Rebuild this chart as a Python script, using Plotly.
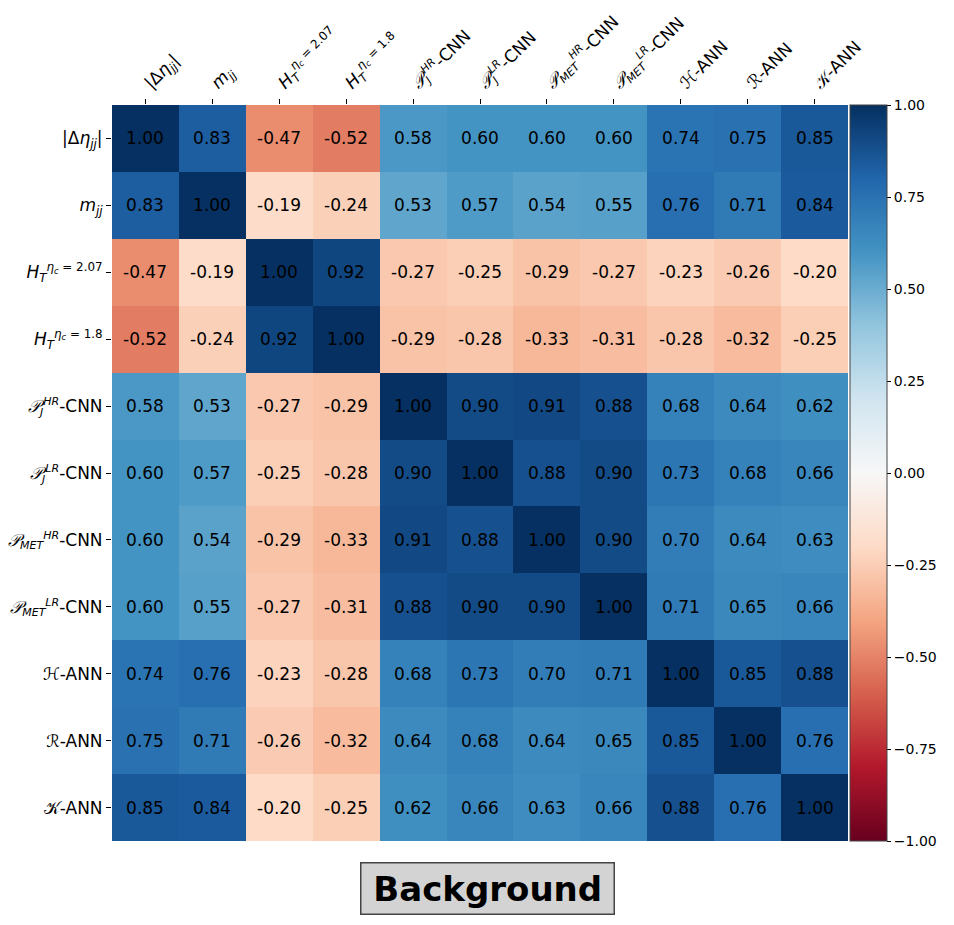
import plotly.graph_objects as go

labels = [
    "|Δ<i>η<sub>jj</sub></i>|",
    "<i>m<sub>jj</sub></i>",
    "<i>H<sub>T</sub></i><sup><i>η<sub>c</sub></i> = 2.07</sup>",
    "<i>H<sub>T</sub></i><sup><i>η<sub>c</sub></i> = 1.8</sup>",
    "<i>𝒫<sub>J</sub><sup>HR</sup></i>-CNN",
    "<i>𝒫<sub>J</sub><sup>LR</sup></i>-CNN",
    "<i>𝒫<sub>MET</sub><sup>HR</sup></i>-CNN",
    "<i>𝒫<sub>MET</sub><sup>LR</sup></i>-CNN",
    "ℋ-ANN",
    "ℛ-ANN",
    "𝒦-ANN",
]

corr = [
    [1.00, 0.83, -0.47, -0.52, 0.58, 0.60, 0.60, 0.60, 0.74, 0.75, 0.85],
    [0.83, 1.00, -0.19, -0.24, 0.53, 0.57, 0.54, 0.55, 0.76, 0.71, 0.84],
    [-0.47, -0.19, 1.00, 0.92, -0.27, -0.25, -0.29, -0.27, -0.23, -0.26, -0.20],
    [-0.52, -0.24, 0.92, 1.00, -0.29, -0.28, -0.33, -0.31, -0.28, -0.32, -0.25],
    [0.58, 0.53, -0.27, -0.29, 1.00, 0.90, 0.91, 0.88, 0.68, 0.64, 0.62],
    [0.60, 0.57, -0.25, -0.28, 0.90, 1.00, 0.88, 0.90, 0.73, 0.68, 0.66],
    [0.60, 0.54, -0.29, -0.33, 0.91, 0.88, 1.00, 0.90, 0.70, 0.64, 0.63],
    [0.60, 0.55, -0.27, -0.31, 0.88, 0.90, 0.90, 1.00, 0.71, 0.65, 0.66],
    [0.74, 0.76, -0.23, -0.28, 0.68, 0.73, 0.70, 0.71, 1.00, 0.85, 0.88],
    [0.75, 0.71, -0.26, -0.32, 0.64, 0.68, 0.64, 0.65, 0.85, 1.00, 0.76],
    [0.85, 0.84, -0.20, -0.25, 0.62, 0.66, 0.63, 0.66, 0.88, 0.76, 1.00],
]

title_text = "Background"
cbar_ticks = [-1.0, -0.75, -0.5, -0.25, 0.0, 0.25, 0.5, 0.75, 1.0]

rdbu = ["#67001f", "#b2182b", "#d6604d", "#f4a582", "#fddbc7", "#f7f7f7",
        "#d1e5f0", "#92c5de", "#4393c3", "#2166ac", "#053061"]
colorscale = [[i / (len(rdbu) - 1), c] for i, c in enumerate(rdbu)]


def small_scripts(label):
    # shrink sub/superscript text so the labels stay about as wide as stacked ones
    return (label.replace("<sub>", "<sub><span style=\"font-size:11px\">")
                 .replace("</sub>", "</span></sub>")
                 .replace("<sup>", "<sup><span style=\"font-size:11px\">")
                 .replace("</sup>", "</span></sup>")) if "𝒫" in label else label


tick_labels = [small_scripts(s) for s in labels]
text = [[f"{v:.2f}" for v in row] for row in corr]
idx = list(range(len(labels)))
FONT = "DejaVu Sans"

fig = go.Figure(go.Heatmap(
    z=corr, x=idx, y=idx, text=text, texttemplate="%{text}",
    textfont=dict(family=FONT, size=17, color="black"),
    colorscale=colorscale, zmin=-1, zmax=1,
    colorbar=dict(
        x=1.0, xpad=2, xanchor="left", thickness=37, len=1.0, y=0.5, yanchor="middle",
        ypad=0, outlinewidth=1, outlinecolor="#444",
        tickvals=cbar_ticks, ticktext=[f"{t:.2f}".replace("-", "−") for t in cbar_ticks],
        ticks="outside", ticklen=4, tickcolor="black",
        tickfont=dict(family=FONT, size=14, color="black"),
    ),
))

fig.update_layout(
    width=946, height=917,
    margin=dict(l=104, r=106, t=97, b=84, autoexpand=False),
    paper_bgcolor="white", plot_bgcolor="white",
    font=dict(family=FONT, color="black"),
    xaxis=dict(side="top", tickvals=idx, ticktext=tick_labels, tickangle=-45,
               tickfont=dict(family=FONT, size=17), ticks="outside", ticklen=5,
               tickcolor="black", showgrid=False, zeroline=False, automargin=False,
               range=[-0.5, 10.5]),
    yaxis=dict(tickvals=idx, ticktext=tick_labels, autorange="reversed",
               tickfont=dict(family=FONT, size=17), ticks="outside", ticklen=5,
               tickcolor="black", showgrid=False, zeroline=False, automargin=False),
    annotations=[dict(
        text=f"<b>\u2009{title_text}\u2009</b>", xref="paper", yref="paper",
        x=(487.5 - 112) / 736, y=(841 - 888) / 736, xanchor="center", yanchor="middle",
        showarrow=False, font=dict(family=FONT, size=34, color="black"),
        bgcolor="#d3d3d3", bordercolor="#444", borderwidth=1.5, borderpad=5,
    )],
)

fig.write_html("out.html")
